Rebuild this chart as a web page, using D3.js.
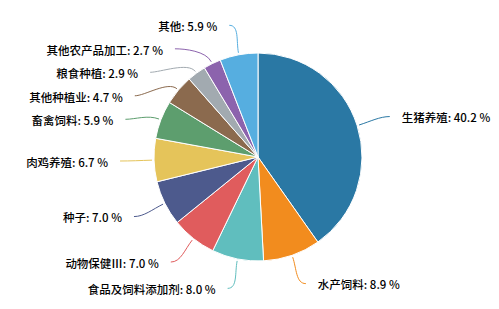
<!DOCTYPE html>
<html>
<head>
<meta charset="utf-8">
<script src="https://cdn.jsdelivr.net/npm/d3@7"></script>
<style>
  body { margin: 0; background: #fff; }
</style>
</head>
<body>
<div id="chart"></div>
<script>
const width = 499;
const height = 309;

// data
const categories = ["生猪养殖", "水产饲料", "食品及饲料添加剂", "动物保健Ⅲ", "种子", "肉鸡养殖",
                    "畜禽饲料", "其他种植业", "粮食种植", "其他农产品加工", "其他"];
const shares = [40.2, 8.9, 8.0, 7.0, 7.0, 6.7, 5.9, 4.7, 2.9, 2.7, 5.9];
const colors = ["#2a78a4", "#f28c1e", "#60bebe", "#e05c5d", "#4d5a8d", "#e5c45a",
                "#5d9e6e", "#8b6a4e", "#a2aab0", "#8c63ad", "#56aee0"];

const cx = 258, cy = 157, r = 104;
const labelR = r + 30;
const minGap = 23.5;

const data = categories.map((c, i) => ({name: c, value: shares[i], color: colors[i]}));

const svg = d3.select("#chart")
    .append("svg")
    .attr("width", width)
    .attr("height", height)
    .attr("viewBox", [0, 0, width, height]);

const g = svg.append("g").attr("transform", `translate(${cx},${cy})`);

const pie = d3.pie().sort(null).value(d => d.value);
const arcs = pie(data);
const total = d3.sum(shares);

const arc = d3.arc().innerRadius(0).outerRadius(r);

g.selectAll("path.slice")
    .data(arcs)
    .enter()
    .append("path")
    .attr("class", "slice")
    .attr("d", arc)
    .attr("fill", d => d.data.color)
    .attr("stroke", "#fff")
    .attr("stroke-width", 1);

// label positions
const labels = arcs.map(a => {
    const mid = (a.startAngle + a.endAngle) / 2;
    return {
        a: a,
        mid: mid,
        side: Math.sin(mid) >= 0 ? 1 : -1,
        y: -Math.cos(mid) * labelR
    };
});

// push overlapping labels down, per side
[1, -1].forEach(side => {
    const list = labels.filter(l => l.side === side).sort((p, q) => p.y - q.y);
    for (let i = 1; i < list.length; i++) {
        if (list[i].y < list[i - 1].y + minGap) list[i].y = list[i - 1].y + minGap;
    }
});

labels.forEach(l => {
    const dy = Math.max(-labelR, Math.min(labelR, l.y));
    l.x = l.side * Math.sqrt(labelR * labelR - dy * dy);
});

const conn = g.append("g");
labels.forEach(l => {
    const s = Math.sin(l.mid), c = -Math.cos(l.mid);
    const p1 = [s * (r + 2), c * (r + 2)];
    const c1 = [s * (r + 14), c * (r + 14)];
    const end = [l.x + l.side * 4, l.y];
    const c2 = [end[0] - l.side * 10, end[1]];
    const path = d3.path();
    path.moveTo(p1[0], p1[1]);
    path.bezierCurveTo(c1[0], c1[1], c2[0], c2[1], end[0], end[1]);
    conn.append("path")
        .attr("d", path.toString())
        .attr("fill", "none")
        .attr("stroke", l.a.data.color)
        .attr("stroke-width", 1);
});

const fmt = d3.format(".1f");
g.append("g")
    .selectAll("text")
    .data(labels)
    .enter()
    .append("text")
    .attr("x", d => d.x + d.side * 16)
    .attr("y", d => d.y)
    .attr("dy", "0.5em")
    .attr("text-anchor", d => d.side > 0 ? "start" : "end")
    .attr("font-family", "'Noto Sans CJK SC', 'Noto Sans', sans-serif")
    .attr("font-size", "11.5px")
    .attr("font-weight", 500)
    .attr("fill", "#000")
    .attr("stroke", "#fff")
    .attr("stroke-width", 2)
    .attr("paint-order", "stroke")
    .text(d => `${d.a.data.name}: ${fmt(d.a.data.value / total * 100)} %`);
</script>
</body>
</html>
